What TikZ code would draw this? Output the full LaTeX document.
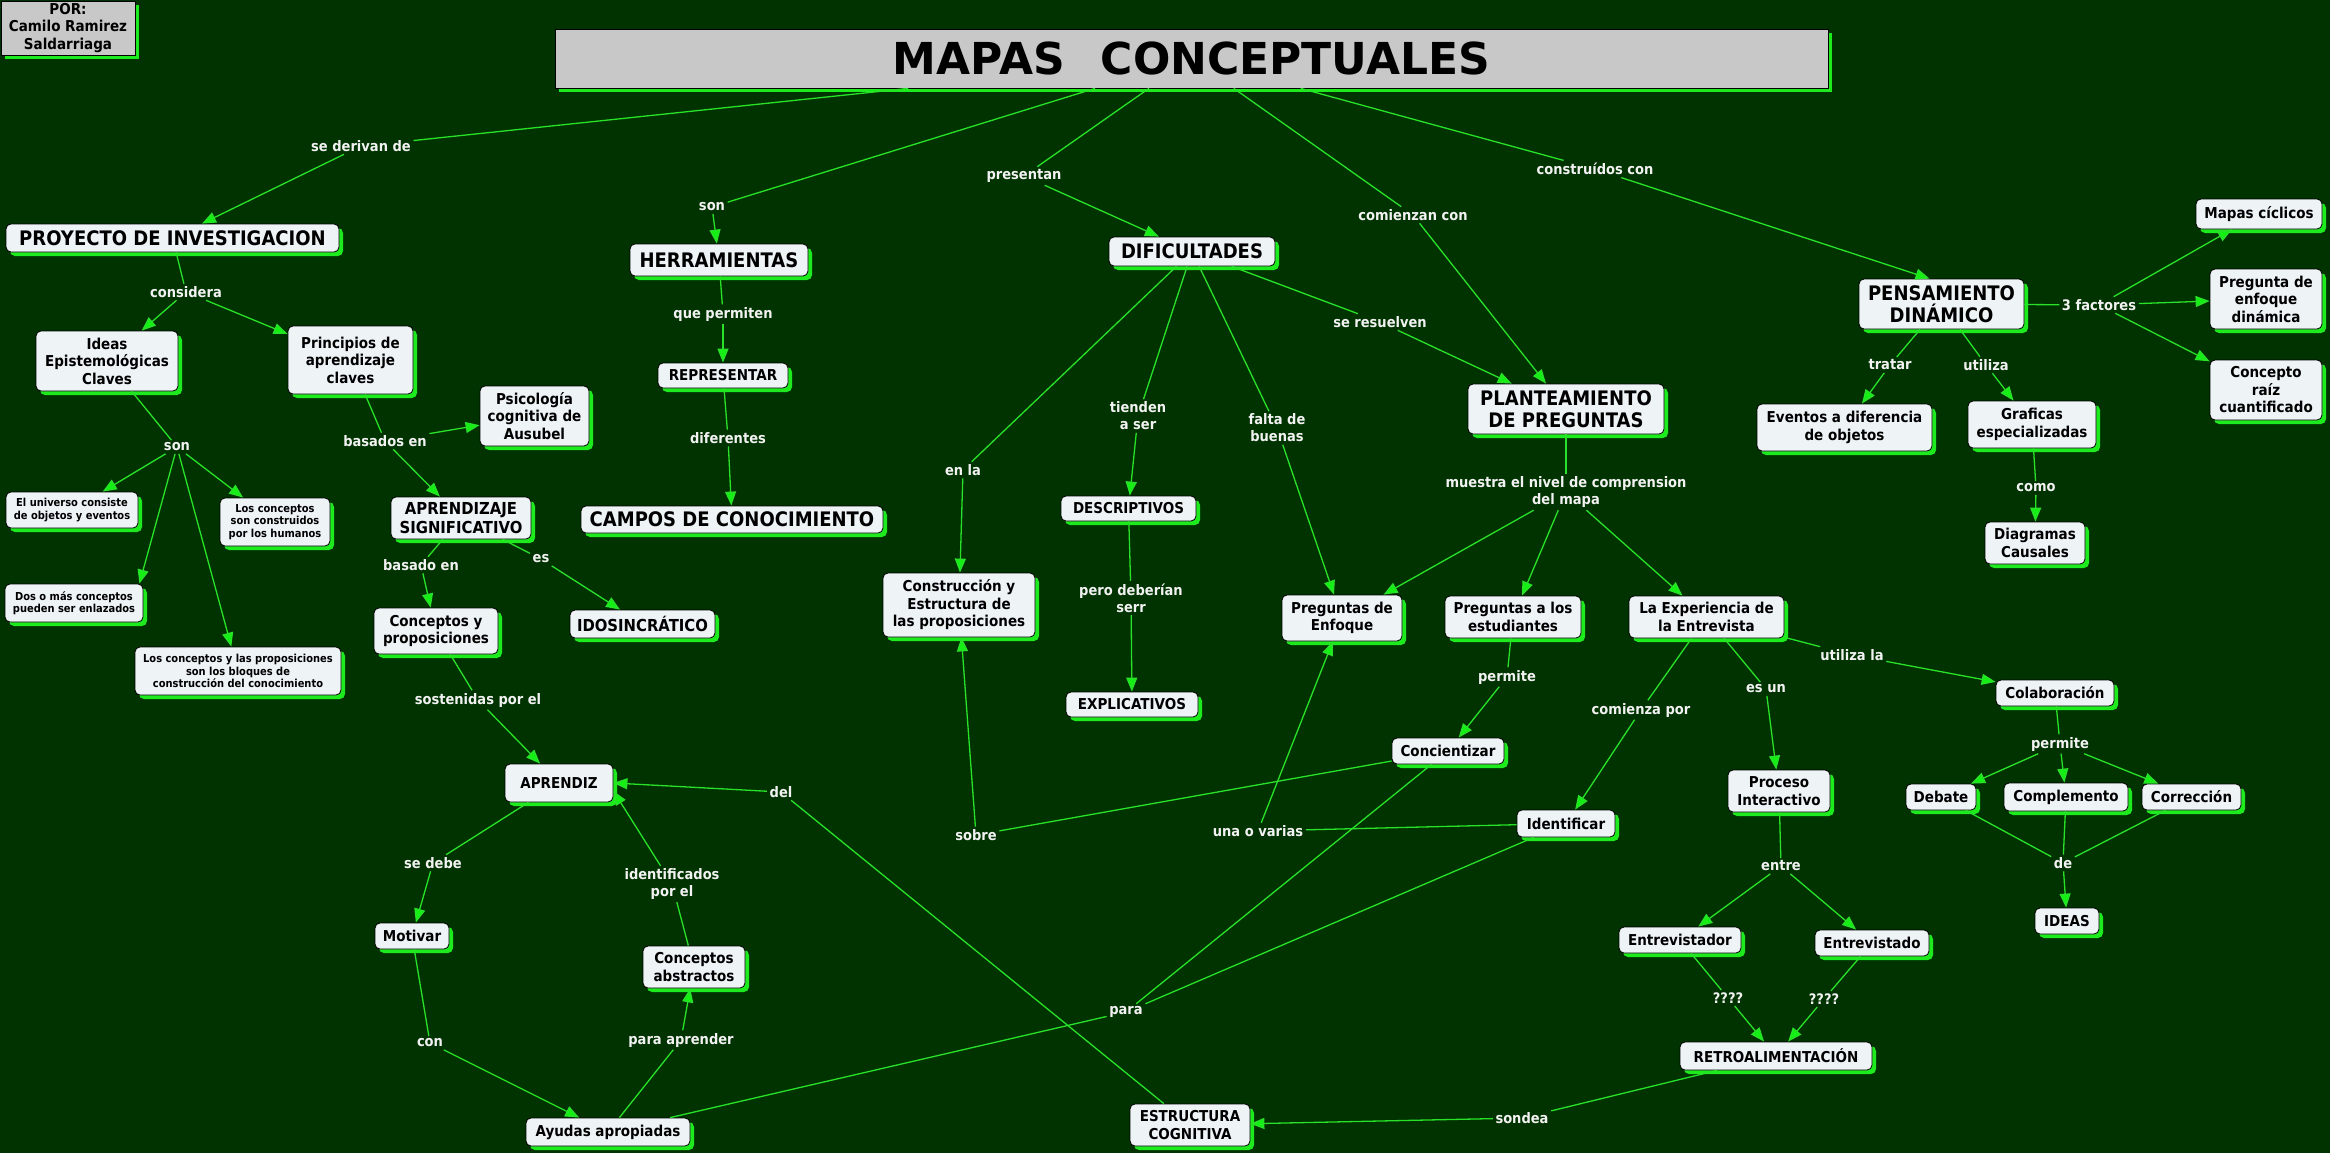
\documentclass[tikz,border=0pt]{standalone}
\usepackage{fontspec}
\setmainfont{DejaVu Sans}[FakeStretch=0.9]
\newfontfamily\titlefont{DejaVu Sans}
\usetikzlibrary{arrows.meta,shadows}
\definecolor{bg}{RGB}{0,51,0}
\definecolor{lngreen}{RGB}{40,225,40}
\definecolor{argreen}{RGB}{20,240,20}
\definecolor{shgreen}{RGB}{30,235,30}
\definecolor{nodefill}{RGB}{238,243,246}
\definecolor{tgray}{RGB}{200,200,200}
\definecolor{labwhite}{RGB}{242,242,242}
\newcommand\fbig{\fontsize{20}{22}\selectfont\bfseries}
\newcommand\fmid{\fontsize{15}{17.5}\selectfont\bfseries}
\newcommand\fmidb{\fontsize{16.5}{18.5}\selectfont\bfseries}
\newcommand\fsml{\fontsize{11}{12.5}\selectfont\bfseries}
\newcommand\flab{\fontsize{14.5}{17}\selectfont\bfseries}
\newcommand\mkbox[7][]{\node[cn,#1,minimum width={#5-#3},minimum height={#6-#4}] (#2) at ({(#3+#5)/2},{(#4+#6)/2}) {#7};}
\begin{document}
\begin{tikzpicture}[x=1pt,y=-1pt,
  gshadow/.style={drop shadow={shadow xshift=4pt,shadow yshift=-4pt,fill=shgreen,opacity=1}},
  cn/.style={draw=black,line width=0.8pt,fill=nodefill,rounded corners=5pt,inner sep=1pt,align=center,text=black,font=\fmid,gshadow},
  gbox/.style={draw=black,line width=0.8pt,fill=tgray,inner sep=1pt,align=center,text=black,gshadow},
  lbl/.style={text=labwhite,font=\flab,inner sep=2.5pt,align=center},
  ln/.style={draw=lngreen,line width=1.3pt},
  ar/.style={ln,-{Triangle[length=14pt,width=11pt,fill=argreen]}}]
\useasboundingbox (0,0) rectangle (2330,1153);
\fill[bg] (0,0) rectangle (2330,1153);

% header boxes
\node[gbox,font=\fmid,minimum width=134,minimum height=54] (por) at (68,28) {POR:\\Camilo Ramirez\\Saldarriaga};
\node[gbox,minimum width=1273,minimum height=59] (title) at (1191.5,58.5) {\titlefont\fontsize{44}{50}\selectfont\bfseries MAPAS\hspace{36pt}CONCEPTUALES};

% concept nodes
\mkbox[font=\fbig]{proy}{6}{224}{339}{252}{PROYECTO DE INVESTIGACION}
\mkbox{ideas}{36}{331}{178}{391}{Ideas\\Epistemológicas\\Claves}
\mkbox{princ}{288}{326}{413}{394}{Principios de\\aprendizaje\\claves}
\mkbox[font=\fsml]{univ}{6}{492}{138}{528}{El universo consiste\\de objetos y eventos}
\mkbox[font=\fsml]{ccons}{220}{498}{330}{546}{Los conceptos\\son construidos\\por los humanos}
\mkbox[font=\fsml]{dos}{5}{584}{143}{622}{Dos o más conceptos\\pueden ser enlazados}
\mkbox[font=\fsml]{bloq}{135}{647}{341}{695}{Los conceptos y las proposiciones\\son los bloques de\\construcción del conocimiento}
\mkbox{psico}{480}{386}{589}{446}{Psicología\\cognitiva de\\Ausubel}
\mkbox[font=\fmidb]{asig}{391}{497}{531}{539}{APRENDIZAJE\\SIGNIFICATIVO}
\mkbox{cyp}{374}{608}{498}{654}{Conceptos y\\proposiciones}
\mkbox[font=\fmidb]{idos}{570}{610}{715}{638}{IDOSINCRÁTICO}
\mkbox{aprendiz}{505}{764}{613}{802}{APRENDIZ}
\mkbox{motivar}{375}{923}{449}{949}{Motivar}
\mkbox{cabs}{643}{946}{745}{988}{Conceptos\\abstractos}
\mkbox{ayudas}{526}{1118}{690}{1146}{Ayudas apropiadas}
\mkbox[font=\fbig]{herr}{630}{244}{808}{276}{HERRAMIENTAS}
\mkbox{repr}{658}{363}{788}{388}{REPRESENTAR}
\mkbox[font=\fbig]{campos}{581}{506}{883}{533}{CAMPOS DE CONOCIMIENTO}
\mkbox[font=\fbig]{dif}{1109}{237}{1275}{266}{DIFICULTADES}
\mkbox{constr}{883}{573}{1035}{637}{Construcción y\\Estructura de\\las proposiciones}
\mkbox{desc}{1061}{496}{1196}{521}{DESCRIPTIVOS}
\mkbox{expl}{1066}{692}{1198}{717}{EXPLICATIVOS}
\mkbox[font=\fbig]{plant}{1468}{384}{1664}{434}{PLANTEAMIENTO\\DE PREGUNTAS}
\mkbox{penf}{1282}{595}{1402}{641}{Preguntas de\\Enfoque}
\mkbox{pest}{1445}{596}{1581}{638}{Preguntas a los\\estudiantes}
\mkbox{exper}{1629}{596}{1784}{638}{La Experiencia de\\la Entrevista}
\mkbox{conc}{1392}{738}{1504}{764}{Concientizar}
\mkbox{ident}{1517}{810}{1615}{837}{Identificar}
\mkbox{proc}{1728}{770}{1830}{812}{Proceso\\Interactivo}
\mkbox{edor}{1619}{927}{1741}{953}{Entrevistador}
\mkbox{edo}{1815}{930}{1929}{956}{Entrevistado}
\mkbox{retro}{1680}{1042}{1872}{1070}{RETROALIMENTACIÓN}
\mkbox{estr}{1130}{1104}{1250}{1146}{ESTRUCTURA\\COGNITIVA}
\mkbox[font=\fbig]{pens}{1859}{279}{2024}{329}{PENSAMIENTO\\DINÁMICO}
\mkbox{mapas}{2196}{199}{2322}{229}{Mapas cíclicos}
\mkbox{pdin}{2210}{269}{2322}{329}{Pregunta de\\enfoque\\dinámica}
\mkbox{craiz}{2210}{360}{2322}{420}{Concepto\\raíz\\cuantificado}
\mkbox{even}{1757}{404}{1932}{451}{Eventos a diferencia\\de objetos}
\mkbox{graf}{1968}{401}{2096}{448}{Graficas\\especializadas}
\mkbox{diag}{1985}{522}{2085}{564}{Diagramas\\Causales}
\mkbox{colab}{1996}{680}{2114}{706}{Colaboración}
\mkbox{debate}{1906}{784}{1976}{810}{Debate}
\mkbox{compl}{2004}{783}{2128}{811}{Complemento}
\mkbox{corr}{2142}{784}{2241}{810}{Corrección}
\mkbox{ideasn}{2035}{908}{2099}{934}{IDEAS}

% linking phrases
\node[lbl] (lderiv) at (361,146) {se derivan de};
\node[lbl] (lson) at (712,207) {son};
\node[lbl] (lpres) at (1024,176) {presentan};
\node[lbl] (lcomi) at (1413,215) {comienzan con};
\node[lbl] (lcons) at (1595,169) {construídos con};
\node[lbl] (lres) at (1380,322) {se resuelven};
\node[lbl] (lenla) at (963,470) {en la};
\node[lbl] (ltien) at (1138,416) {tienden\\a ser};
\node[lbl] (lfalta) at (1277,428) {falta de\\buenas};
\node[lbl] (lpero) at (1131,598) {pero deberían\\serr};
\node[lbl] (lqp) at (723,314) {que permiten};
\node[lbl] (ldif) at (728,438) {diferentes};
\node[lbl] (lconsid) at (186,292) {considera};
\node[lbl] (lson2) at (177,447) {son};
\node[lbl] (lbas) at (385,441) {basados en};
\node[lbl] (lbasado) at (421,565) {basado en};
\node[lbl] (les) at (541,559) {es};
\node[lbl] (lsost) at (478,700) {sostenidas por el};
\node[lbl] (ldebe) at (433,863) {se debe};
\node[lbl] (lcon) at (430,1043) {con};
\node[lbl] (lparaap) at (681,1040) {para aprender};
\node[lbl] (lidentif) at (672,884) {identificados\\por el};
\node[lbl] (ldel) at (781,792) {del};
\node[lbl] (lsobre) at (976,835) {sobre};
\node[lbl] (lpara) at (1126,1012) {para};
\node[lbl] (luna) at (1258,831) {una o varias};
\node[lbl] (lsondea) at (1522,1118) {sondea};
\node[lbl] (lperm) at (1507,677) {permite};
\node[lbl] (lmuestra) at (1566,492) {muestra el nivel de comprension\\del mapa};
\node[lbl] (lcomienza) at (1641,710) {comienza por};
\node[lbl] (lesun) at (1766,689) {es un};
\node[lbl] (lutilla) at (1852,655) {utiliza la};
\node[lbl] (lperm2) at (2060,744) {permite};
\node[lbl] (lde) at (2063,863) {de};
\node[lbl] (lentre) at (1781,866) {entre};
\node[lbl] (lq1) at (1728,998) {????};
\node[lbl] (lq2) at (1824,999) {????};
\node[lbl] (lcomo) at (2036,488) {como};
\node[lbl] (ltratar) at (1890,365) {tratar};
\node[lbl] (lutil) at (1986,365) {utiliza};
\node[lbl] (l3f) at (2099,305) {3 factores};

% connectors
\draw[ln] (title) -- (lderiv); \draw[ar] (lderiv) -- (proy);
\draw[ln] (title) -- (lson); \draw[ar] (lson) -- (herr);
\draw[ln] (title) -- (lpres); \draw[ar] (lpres) -- (dif);
\draw[ln] (title) -- (lcomi); \draw[ar] (lcomi) -- (plant);
\draw[ln] (title) -- (lcons); \draw[ar] (lcons) -- ([xshift=-12pt]pens.north);
\draw[ln] (dif) -- (lres); \draw[ar] (lres) -- (plant);
\draw[ln] (dif) -- (lenla); \draw[ar] (lenla) -- (constr);
\draw[ln] (dif) -- (ltien); \draw[ar] (ltien) -- (desc);
\draw[ln] (dif) -- (lfalta); \draw[ar] (lfalta) -- (penf);
\draw[ln] (desc) -- (lpero); \draw[ar] (lpero) -- (expl);
\draw[ln] (herr) -- (lqp); \draw[ar] (lqp) -- (repr);
\draw[ln] (repr) -- (ldif); \draw[ar] (ldif) -- (campos);
\draw[ln] (proy) -- (lconsid); \draw[ar] (lconsid) -- (ideas); \draw[ar] (lconsid) -- (princ);
\draw[ln] (ideas) -- (lson2);
\draw[ar] (lson2) -- (univ); \draw[ar] (lson2) -- (ccons);
\draw[ar] (lson2) -- ([xshift=-4pt]dos.north east); \draw[ar] (lson2) -- (bloq);
\draw[ln] (princ) -- (lbas); \draw[ar] (lbas) -- (psico); \draw[ar] (lbas) -- (asig);
\draw[ln] (asig) -- (lbasado); \draw[ar] (lbasado) -- (cyp);
\draw[ln] (asig) -- (les); \draw[ar] (les) -- (idos);
\draw[ln] (cyp) -- (lsost); \draw[ar] (lsost) -- (aprendiz);
\draw[ln] (aprendiz) -- (ldebe); \draw[ar] (ldebe) -- (motivar);
\draw[ln] (motivar) -- (lcon); \draw[ar] (lcon) -- (ayudas);
\draw[ln] (ayudas) -- (lparaap); \draw[ar] (lparaap) -- (cabs);
\draw[ln] (cabs) -- (lidentif); \draw[ar] (lidentif) -- ([yshift=-8pt]aprendiz.east);
\draw[ln] (estr) -- (ldel); \draw[ar] (ldel) -- (aprendiz.east);
\draw[ln] (conc) -- (lsobre); \draw[ar] (lsobre) -- (constr);
\draw[ln] (ident) -- (luna); \draw[ar] (luna) -- (penf);
\draw[ln] (conc) -- (lpara); \draw[ln] (ident) -- (lpara); \draw[ln] (lpara) -- (ayudas);
\draw[ln] (pest) -- (lperm); \draw[ar] (lperm) -- (conc);
\draw[ln] (plant) -- (lmuestra);
\draw[ar] (lmuestra) -- (penf); \draw[ar] (lmuestra) -- (pest); \draw[ar] (lmuestra) -- (exper);
\draw[ln] (exper) -- (lcomienza); \draw[ar] (lcomienza) -- (ident);
\draw[ln] (exper) -- (lesun); \draw[ar] (lesun) -- (proc);
\draw[ln] (exper) -- (lutilla); \draw[ar] (lutilla) -- (colab);
\draw[ln] (colab) -- (lperm2);
\draw[ar] (lperm2) -- (debate); \draw[ar] (lperm2) -- (compl); \draw[ar] (lperm2) -- (corr);
\draw[ln] (debate) -- (lde); \draw[ln] (compl) -- (lde); \draw[ln] (corr) -- (lde);
\draw[ar] (lde) -- (ideasn);
\draw[ln] (proc) -- (lentre); \draw[ar] (lentre) -- (edor); \draw[ar] (lentre) -- (edo);
\draw[ln] (edor) -- (lq1); \draw[ar] (lq1) -- (retro);
\draw[ln] (edo) -- (lq2); \draw[ar] (lq2) -- (retro);
\draw[ln] (retro) -- (lsondea); \draw[ar] (lsondea) -- (estr);
\draw[ln] (pens) -- (l3f);
\draw[ar] (l3f) -- (mapas); \draw[ar] (l3f) -- (pdin); \draw[ar] (l3f) -- (craiz);
\draw[ln] (pens) -- (ltratar); \draw[ar] (ltratar) -- (even);
\draw[ln] (pens) -- (lutil); \draw[ar] (lutil) -- (graf);
\draw[ln] (graf) -- (lcomo); \draw[ar] (lcomo) -- (diag);
\end{tikzpicture}
\end{document}
